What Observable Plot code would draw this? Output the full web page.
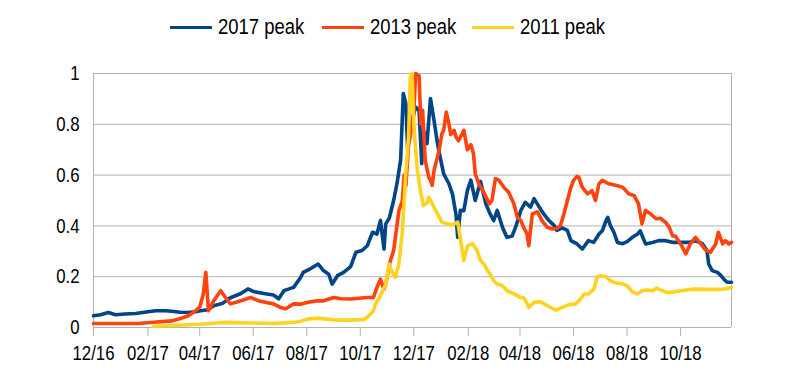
<!DOCTYPE html>
<html><head><meta charset="utf-8">
<script src="https://cdn.jsdelivr.net/npm/d3@7"></script>
<script src="https://cdn.jsdelivr.net/npm/@observablehq/plot@0.6"></script>
<style>
body{margin:0;background:#fff;font-family:"Liberation Sans",Arial,sans-serif;}
#legend{position:relative;height:50px;width:800px;}
.item{position:absolute;top:2px;height:50px;display:flex;align-items:center;font-size:22px;color:#000;}
.sw{width:42px;height:3px;margin-right:6px;flex:none;}
.item span{display:inline-block;transform:scaleX(0.84);transform-origin:left center;white-space:nowrap;}
#chart svg{display:block;}
</style></head><body>
<div id="legend"></div>
<div id="chart"></div>
<script>
const seriesNames = ["2017 peak", "2013 peak", "2011 peak"];
const seriesColors = ["#004586", "#ff420e", "#ffd320"];

const blueDates = ["2016-12-01","2016-12-09","2016-12-18","2016-12-26","2017-01-06","2017-01-18","2017-02-01","2017-02-10","2017-02-21","2017-02-28","2017-03-10","2017-03-19","2017-03-27","2017-04-02","2017-04-10","2017-04-17","2017-04-27","2017-05-06","2017-05-18","2017-05-26","2017-06-01","2017-06-13","2017-06-24","2017-06-30","2017-07-06","2017-07-17","2017-07-25","2017-07-28","2017-08-05","2017-08-14","2017-08-20","2017-08-26","2017-08-30","2017-09-05","2017-09-12","2017-09-20","2017-09-26","2017-10-03","2017-10-09","2017-10-15","2017-10-20","2017-10-24","2017-10-28","2017-10-30","2017-11-03","2017-11-08","2017-11-12","2017-11-16","2017-11-19","2017-11-22","2017-11-24","2017-11-26","2017-11-29","2017-12-03","2017-12-07","2017-12-10","2017-12-12","2017-12-16","2017-12-20","2017-12-24","2017-12-28","2017-12-31","2018-01-04","2018-01-10","2018-01-14","2018-01-18","2018-01-20","2018-01-23","2018-01-27","2018-01-31","2018-02-04","2018-02-09","2018-02-15","2018-02-21","2018-02-26","2018-03-02","2018-03-06","2018-03-12","2018-03-17","2018-03-23","2018-03-27","2018-04-02","2018-04-07","2018-04-13","2018-04-17","2018-04-23","2018-04-28","2018-05-04","2018-05-10","2018-05-13","2018-05-19","2018-05-25","2018-05-29","2018-06-05","2018-06-11","2018-06-18","2018-06-24","2018-06-30","2018-07-04","2018-07-08","2018-07-10","2018-07-13","2018-07-17","2018-07-21","2018-07-27","2018-08-01","2018-08-07","2018-08-13","2018-08-16","2018-08-22","2018-08-30","2018-09-06","2018-09-14","2018-09-23","2018-10-01","2018-10-10","2018-10-18","2018-10-26","2018-10-31","2018-11-02","2018-11-06","2018-11-12","2018-11-16","2018-11-19","2018-11-23","2018-11-28"];
const blueValues = [0.046,0.05,0.059,0.05,0.053,0.055,0.062,0.066,0.066,0.064,0.06,0.059,0.062,0.066,0.07,0.086,0.095,0.117,0.134,0.152,0.142,0.134,0.128,0.113,0.145,0.158,0.197,0.217,0.231,0.25,0.224,0.21,0.171,0.204,0.217,0.24,0.296,0.303,0.322,0.375,0.368,0.421,0.309,0.408,0.43,0.5,0.57,0.66,0.921,0.88,0.7,0.75,0.816,0.868,0.855,0.645,0.776,0.724,0.901,0.816,0.724,0.671,0.605,0.566,0.526,0.447,0.355,0.461,0.46,0.539,0.58,0.5,0.575,0.487,0.447,0.421,0.461,0.395,0.355,0.36,0.395,0.461,0.493,0.474,0.507,0.474,0.447,0.421,0.401,0.382,0.392,0.382,0.342,0.329,0.309,0.342,0.335,0.368,0.382,0.421,0.434,0.401,0.375,0.335,0.33,0.338,0.355,0.368,0.38,0.329,0.335,0.342,0.342,0.335,0.335,0.335,0.342,0.329,0.303,0.25,0.224,0.217,0.204,0.191,0.178,0.178];

const redDates = ["2016-12-01","2017-01-21","2017-02-04","2017-02-28","2017-03-10","2017-03-19","2017-03-27","2017-04-01","2017-04-05","2017-04-08","2017-04-11","2017-04-17","2017-04-25","2017-04-30","2017-05-06","2017-05-18","2017-05-29","2017-06-09","2017-06-24","2017-07-02","2017-07-08","2017-07-17","2017-07-25","2017-08-02","2017-08-13","2017-08-20","2017-09-01","2017-09-09","2017-09-20","2017-10-09","2017-10-16","2017-10-20","2017-10-24","2017-10-28","2017-10-30","2017-11-02","2017-11-04","2017-11-08","2017-11-14","2017-11-18","2017-11-20","2017-11-22","2017-11-25","2017-11-29","2017-12-01","2017-12-03","2017-12-07","2017-12-09","2017-12-11","2017-12-12","2017-12-14","2017-12-18","2017-12-20","2017-12-22","2017-12-24","2017-12-26","2017-12-30","2018-01-02","2018-01-04","2018-01-07","2018-01-10","2018-01-12","2018-01-16","2018-01-18","2018-01-21","2018-01-27","2018-01-31","2018-02-04","2018-02-07","2018-02-09","2018-02-13","2018-02-19","2018-02-25","2018-02-28","2018-03-04","2018-03-08","2018-03-14","2018-03-19","2018-03-25","2018-03-29","2018-04-02","2018-04-05","2018-04-09","2018-04-11","2018-04-15","2018-04-21","2018-04-26","2018-05-02","2018-05-08","2018-05-13","2018-05-17","2018-05-21","2018-05-25","2018-05-29","2018-06-01","2018-06-05","2018-06-07","2018-06-11","2018-06-17","2018-06-22","2018-06-26","2018-06-30","2018-07-04","2018-07-11","2018-07-19","2018-07-27","2018-08-03","2018-08-09","2018-08-14","2018-08-18","2018-08-22","2018-08-28","2018-09-03","2018-09-08","2018-09-14","2018-09-18","2018-09-22","2018-09-25","2018-10-01","2018-10-07","2018-10-12","2018-10-18","2018-10-24","2018-10-30","2018-11-04","2018-11-10","2018-11-13","2018-11-18","2018-11-21","2018-11-25","2018-11-28"];
const redValues = [0.016,0.016,0.02,0.026,0.035,0.046,0.065,0.08,0.13,0.217,0.066,0.105,0.145,0.12,0.093,0.105,0.118,0.103,0.093,0.079,0.074,0.093,0.092,0.099,0.105,0.105,0.118,0.113,0.112,0.118,0.118,0.158,0.19,0.15,0.17,0.224,0.26,0.303,0.46,0.5,0.6,0.56,0.72,0.79,0.842,1.0,0.99,0.8,0.855,0.79,0.658,0.592,0.579,0.56,0.618,0.645,0.7,0.763,0.776,0.848,0.803,0.76,0.776,0.75,0.735,0.776,0.7,0.72,0.684,0.605,0.566,0.53,0.487,0.5,0.586,0.58,0.55,0.533,0.487,0.434,0.421,0.395,0.368,0.322,0.447,0.455,0.421,0.395,0.388,0.39,0.401,0.447,0.5,0.552,0.579,0.595,0.592,0.552,0.526,0.539,0.5,0.566,0.579,0.566,0.56,0.552,0.526,0.52,0.487,0.408,0.461,0.447,0.428,0.43,0.414,0.395,0.36,0.36,0.329,0.29,0.329,0.355,0.329,0.303,0.296,0.329,0.375,0.329,0.342,0.329,0.335];

const yellowDates = ["2017-02-07","2017-02-27","2017-04-02","2017-04-28","2017-05-29","2017-06-24","2017-07-17","2017-07-25","2017-08-02","2017-08-13","2017-09-01","2017-09-20","2017-10-05","2017-10-09","2017-10-16","2017-10-18","2017-10-24","2017-10-30","2017-11-03","2017-11-06","2017-11-10","2017-11-14","2017-11-18","2017-11-22","2017-11-25","2017-11-27","2017-11-29","2017-12-01","2017-12-02","2017-12-05","2017-12-09","2017-12-12","2017-12-16","2017-12-18","2017-12-22","2017-12-28","2018-01-02","2018-01-08","2018-01-14","2018-01-20","2018-01-23","2018-01-27","2018-01-31","2018-02-06","2018-02-11","2018-02-15","2018-02-19","2018-02-23","2018-02-26","2018-03-02","2018-03-06","2018-03-10","2018-03-14","2018-03-17","2018-03-25","2018-04-02","2018-04-05","2018-04-09","2018-04-11","2018-04-17","2018-04-24","2018-05-02","2018-05-12","2018-05-19","2018-05-27","2018-06-03","2018-06-09","2018-06-13","2018-06-18","2018-06-24","2018-06-28","2018-07-02","2018-07-08","2018-07-13","2018-07-19","2018-07-27","2018-08-01","2018-08-07","2018-08-13","2018-08-18","2018-08-24","2018-08-30","2018-09-04","2018-09-10","2018-09-16","2018-09-23","2018-10-01","2018-10-16","2018-10-31","2018-11-16","2018-11-28"];
const yellowValues = [0.004,0.008,0.013,0.02,0.018,0.016,0.02,0.025,0.033,0.037,0.03,0.029,0.032,0.04,0.066,0.09,0.125,0.17,0.25,0.22,0.197,0.25,0.38,0.618,0.75,0.987,1.0,0.8,0.75,0.62,0.53,0.48,0.49,0.513,0.487,0.447,0.415,0.408,0.405,0.415,0.35,0.263,0.32,0.33,0.303,0.263,0.25,0.224,0.21,0.184,0.171,0.168,0.158,0.145,0.132,0.118,0.118,0.095,0.079,0.099,0.102,0.086,0.068,0.079,0.09,0.092,0.112,0.132,0.132,0.15,0.2,0.204,0.2,0.184,0.175,0.172,0.165,0.14,0.132,0.145,0.148,0.145,0.155,0.145,0.138,0.14,0.145,0.151,0.15,0.15,0.157];

const xDomain = ["2016-12-01", "2018-11-28"];
const xTickDates = ["2016-12-01","2017-02-01","2017-04-01","2017-06-01","2017-08-01","2017-10-01","2017-12-01","2018-02-01","2018-04-01","2018-06-01","2018-08-01","2018-10-01"];
const xTickLabels = ["12/16","02/17","04/17","06/17","08/17","10/17","12/17","02/18","04/18","06/18","08/18","10/18"];
const yTicks = [0, 0.2, 0.4, 0.6, 0.8, 1];
const yTickLabels = ["0", "0.2", "0.4", "0.6", "0.8", "1"];

const seriesDates = [blueDates, redDates, yellowDates];
const seriesValues = [blueValues, redValues, yellowValues];
const rows = [];
seriesNames.forEach((name, s) => {
  seriesDates[s].forEach((d, i) => rows.push({series: name, date: new Date(d + "T00:00:00Z"), value: seriesValues[s][i]}));
});

// legend
const legend = document.getElementById("legend");
const legendLeft = [170, 322, 472];
seriesNames.forEach((name, i) => {
  const it = document.createElement("div");
  it.className = "item";
  it.style.left = legendLeft[i] + "px";
  it.innerHTML = `<div class="sw" style="background:${seriesColors[i]}"></div><span>${name}</span>`;
  legend.appendChild(it);
});

const FONT = '"Liberation Sans",Arial,sans-serif';
const d0 = new Date(xDomain[0] + "T00:00:00Z"), d1 = new Date(xDomain[1] + "T00:00:00Z");
const grid = "#b3b3b3";
const chart = Plot.plot({
  width: 800,
  height: 321,
  marginTop: 23,
  marginBottom: 44,
  marginLeft: 93,
  marginRight: 69,
  style: {fontFamily: FONT, fontSize: "21px", color: "#000", background: "#fff"},
  x: {type: "utc", domain: [d0, d1]},
  y: {domain: [0, 1]},
  color: {domain: seriesNames, range: seriesColors},
  marks: [
    Plot.ruleY(yTicks.slice(1), {stroke: grid, strokeWidth: 1}),
    Plot.ruleY([0], {stroke: grid, strokeWidth: 1}),
    Plot.ruleX([d0, d1], {y1: 0, y2: 1, stroke: grid, strokeWidth: 1}),
    Plot.axisY({ticks: yTicks, tickFormat: (d) => yTickLabels[yTicks.indexOf(d)], tickSize: 0, tickPadding: 14, label: null, fontSize: 21}),
    Plot.axisX({ticks: xTickDates.map(d => new Date(d + "T00:00:00Z")), tickFormat: (d, i) => xTickLabels[i], tickSize: 9, tickPadding: 9, stroke: grid, label: null, fontSize: 21}),
    Plot.line(rows, {x: "date", y: "value", z: "series", stroke: "series", strokeWidth: 3.6, strokeLinejoin: "round", strokeLinecap: "round", curve: "linear"})
  ]
});
document.getElementById("chart").appendChild(chart);

// condense axis tick labels horizontally around their anchor point
chart.querySelectorAll('g[aria-label$="tick label"] text').forEach((el) => {
  const t = el.getAttribute("transform");
  if (t) el.setAttribute("transform", `${t} scale(0.8,1)`);
});
</script>
</body></html>
